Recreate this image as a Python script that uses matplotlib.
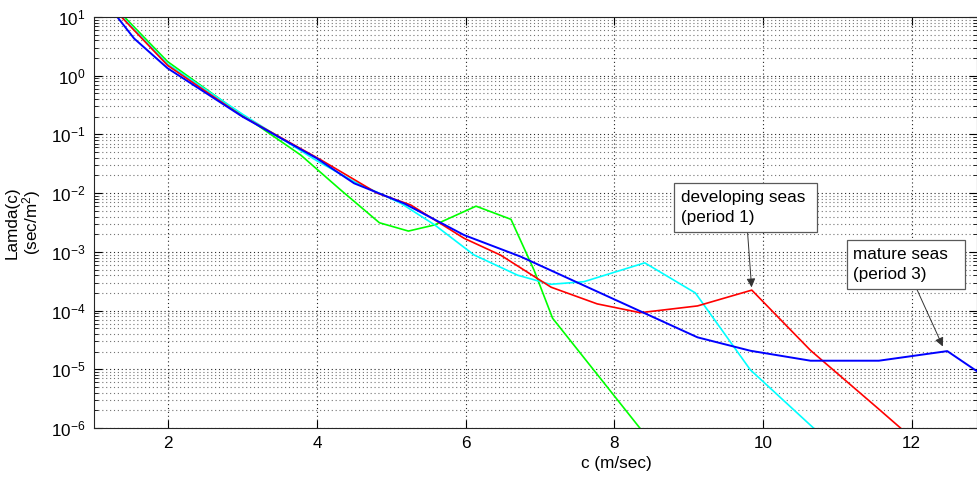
import matplotlib
matplotlib.use('Agg')
import matplotlib.pyplot as plt
import numpy as np

plt.rcParams['font.family'] = ['Liberation Sans', 'DejaVu Sans']
plt.rcParams['mathtext.fontset'] = 'custom'
plt.rcParams['mathtext.rm'] = 'Liberation Sans'
plt.rcParams['mathtext.it'] = 'Liberation Sans:italic'
plt.rcParams['font.size'] = 12.3

# phase speed c (m/sec) and Lamda(c), one pair per series
c_green = [1.41, 1.99, 2.84, 3.78, 4.32, 4.84, 5.23, 5.58, 6.14, 6.61, 6.92, 7.17, 8.33, 8.6]
lam_green = [10.0, 1.74, 0.295, 0.0447, 0.0113, 3.13e-3, 2.26e-3, 2.87e-3, 6.0e-3, 3.58e-3,
             4.9e-4, 7.4e-5, 1.05e-6, 4e-7]

c_cyan = [1.38, 1.99, 3.0, 4.0, 4.5, 5.13, 5.58, 6.11, 6.70, 7.14, 7.59, 8.41, 9.09, 9.83, 10.68, 11.0]
lam_cyan = [10.0, 1.58, 0.22, 0.0355, 0.0157, 6.7e-3, 2.9e-3, 8.9e-4, 4.0e-4, 2.8e-4, 3.1e-4,
            6.5e-4, 2.0e-4, 9.8e-6, 1.0e-6, 4.5e-7]

c_red = [1.36, 1.99, 2.98, 4.05, 4.81, 5.26, 5.98, 6.47, 7.15, 7.77, 8.35, 9.12, 9.85, 10.64, 11.54, 12.3]
lam_red = [10.3, 1.5, 0.21, 0.037, 0.01, 6.3e-3, 1.7e-3, 8.8e-4, 2.5e-4, 1.3e-4, 9.2e-5, 1.2e-4,
           2.23e-4, 2.1e-5, 2.2e-6, 3.2e-7]

c_blue = [1.30, 1.54, 1.99, 3.0, 4.0, 4.5, 5.17, 5.98, 6.74, 9.12, 9.83, 10.64, 11.56, 12.48, 12.9]
lam_blue = [10.5, 4.3, 1.34, 0.20, 0.039, 0.0147, 6.7e-3, 1.93e-3, 8.3e-4, 3.5e-5, 2.07e-5,
            1.4e-5, 1.4e-5, 2.04e-5, 8.9e-6]

fig = plt.figure(figsize=(9.77, 4.78), dpi=100)
ax = fig.add_axes([94 / 977, 50 / 478, 883 / 977, 411 / 478])

ax.plot(c_green, lam_green, color=(0, 1, 0), lw=1.2)
ax.plot(c_cyan, lam_cyan, color=(0, 1, 1), lw=1.2)
ax.plot(c_red, lam_red, color=(1, 0, 0), lw=1.2)
ax.plot(c_blue, lam_blue, color=(0, 0, 1), lw=1.4)

ax.set_yscale('log')
ax.set_xlim(1, 12.88)
ax.set_ylim(1e-6, 10)
ax.set_xticks([2, 4, 6, 8, 10, 12])
ax.set_yticks([10.0 ** k for k in range(-6, 2)])

ax.grid(True, which='major', linestyle=(0, (1, 2.5)), color='0.15', lw=0.8)
ax.grid(True, which='minor', axis='y', linestyle=(0, (1, 2.5)), color='0.45', lw=0.8)
ax.tick_params(which='both', direction='in', top=True, right=True)
ax.tick_params(which='major', length=6, pad=6)
ax.tick_params(which='minor', length=3)
for s in ax.spines.values():
    s.set_color('0.15')

ax.set_xlabel('c (m/sec)')
ax.xaxis.set_label_coords(0.592, -0.068)
ax.set_ylabel('Lamda(c)\n(sec/m$^2$)', linespacing=1.0)
ax.yaxis.set_label_coords(-0.058, 0.5)

# annotations pointing at the spectral peaks
c_red_arr = np.array(c_red)
lam_red_arr = np.array(lam_red)
i_red = int(np.argmax(np.where(c_red_arr > 9, lam_red_arr, 0)))
ax.annotate('developing seas \n(period 1)', xy=(c_red[i_red], lam_red[i_red]),
            xytext=(0.665, 0.579), textcoords='axes fraction', ha='left', va='top',
            linespacing=1.45,
            bbox=dict(boxstyle='square,pad=0.4', fc='white', ec='0.35', lw=0.9),
            arrowprops=dict(arrowstyle='-|>', color='0.2', lw=0.7, mutation_scale=13,
                            shrinkA=0, shrinkB=2))

c_blue_arr = np.array(c_blue)
lam_blue_arr = np.array(lam_blue)
i_blue = int(np.argmax(np.where(c_blue_arr > 11, lam_blue_arr, 0)))
ax.annotate('mature seas  \n(period 3)', xy=(c_blue[i_blue] - 0.06, lam_blue[i_blue] * 1.2),
            xytext=(0.860, 0.441), textcoords='axes fraction', ha='left', va='top',
            linespacing=1.45,
            bbox=dict(boxstyle='square,pad=0.4', fc='white', ec='0.35', lw=0.9),
            arrowprops=dict(arrowstyle='-|>', color='0.2', lw=0.7, mutation_scale=13,
                            shrinkA=0, shrinkB=0))

fig.savefig('out.png', dpi=100)
